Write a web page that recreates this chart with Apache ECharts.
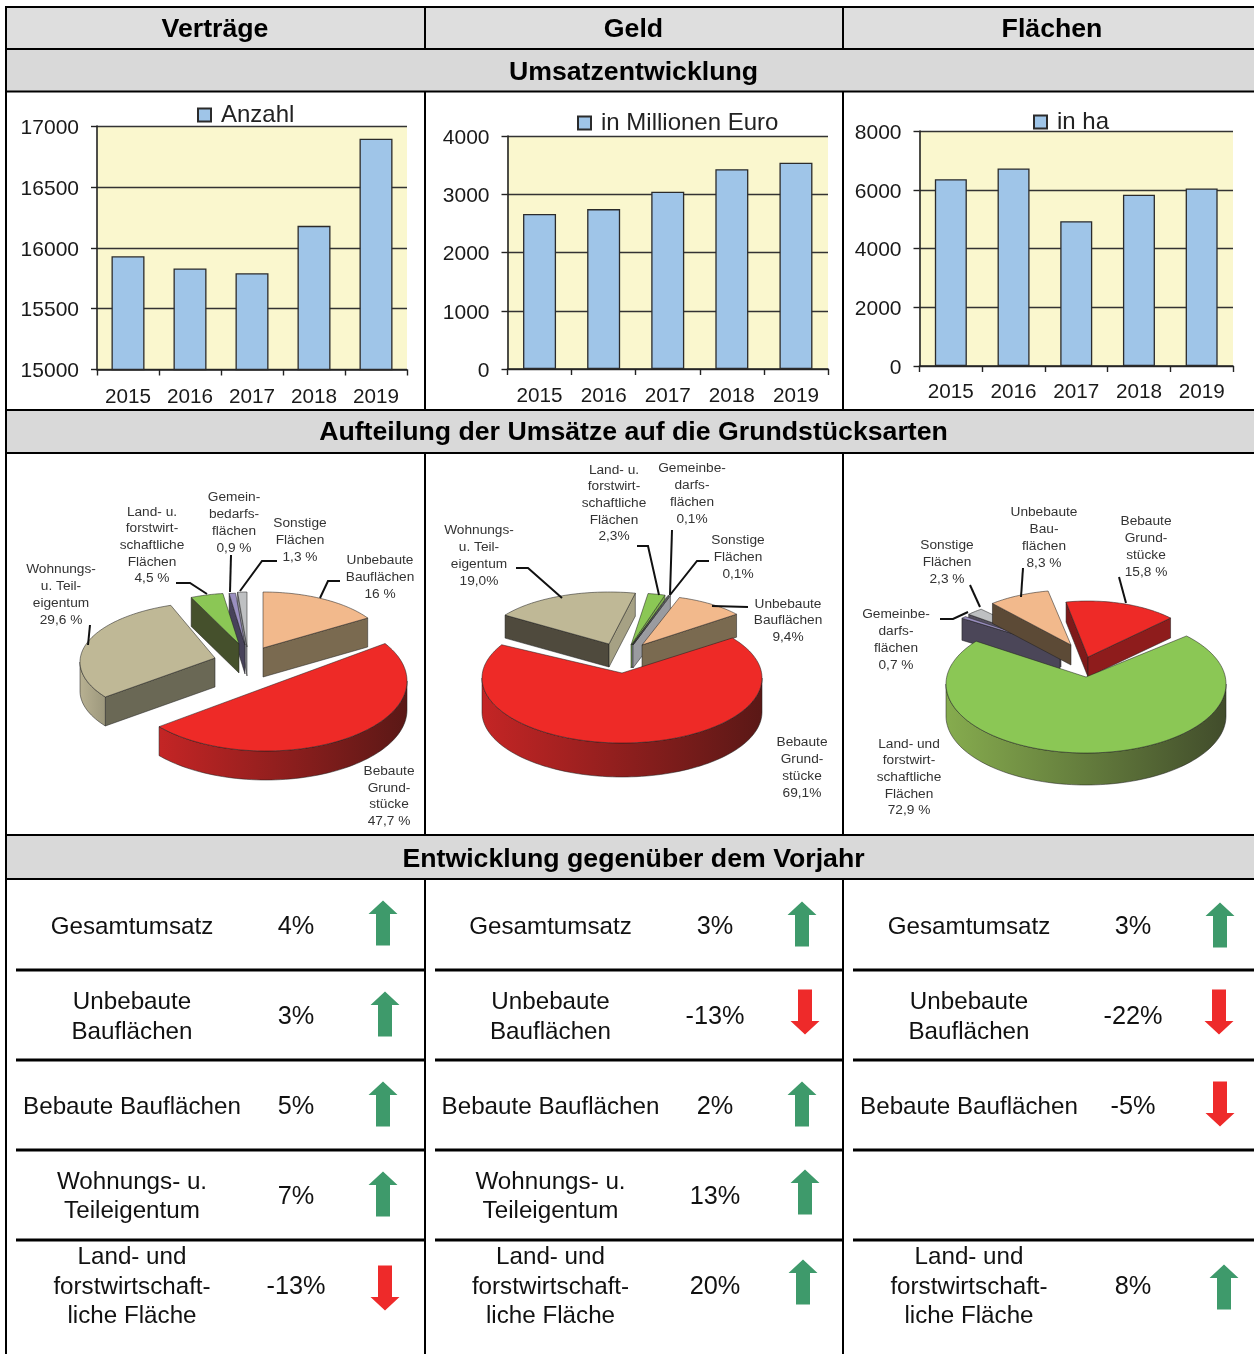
<!DOCTYPE html>
<html><head><meta charset="utf-8">
<style>html,body{margin:0;padding:0;background:#fff}#c{width:1254px;height:1354px}</style>
<script src="https://cdn.jsdelivr.net/npm/echarts@6/dist/echarts.min.js"></script>
</head><body><div id="c"></div>
<script>
const FONT='"Liberation Sans",Arial,sans-serif';
// ---- data ----
const columnTitles=['Verträge','Geld','Flächen'];
const sectionTitles=['Umsatzentwicklung','Aufteilung der Umsätze auf die Grundstücksarten','Entwicklung gegenüber dem Vorjahr'];
const years=['2015','2016','2017','2018','2019'];
const contractValues=[15930,15830,15790,16180,16895];
const moneyValues=[2660,2745,3045,3430,3540];
const areaValues=[6360,6725,4930,5830,6045];
const seriesNames=['Anzahl','in Millionen Euro','in ha'];

const pie1Values=[16,47.7,29.6,4.5,0.9,1.3];
const pie2Values=[69.1,19.0,2.3,0.1,0.1,9.4];
const pie3Values=[15.8,72.9,0.7,2.3,8.3];

const pie1Labels=[
 'Unbebaute\nBauflächen\n16 %','Bebaute\nGrund-\nstücke\n47,7 %','Wohnungs-\nu. Teil-\neigentum\n29,6 %',
 'Land- u.\nforstwirt-\nschaftliche\nFlächen\n4,5 %','Gemein-\nbedarfs-\nflächen\n0,9 %','Sonstige\nFlächen\n1,3 %'];
const pie2Labels=[
 'Bebaute\nGrund-\nstücke\n69,1%','Wohnungs-\nu. Teil-\neigentum\n19,0%',
 'Land- u.\nforstwirt-\nschaftliche\nFlächen\n2,3%','Gemeinbe-\ndarfs-\nflächen\n0,1%','Sonstige\nFlächen\n0,1%','Unbebaute\nBauflächen\n9,4%'];
const pie3Labels=[
 'Bebaute\nGrund-\nstücke\n15,8 %','Land- und\nforstwirt-\nschaftliche\nFlächen\n72,9 %',
 'Gemeinbe-\ndarfs-\nflächen\n0,7 %','Sonstige\nFlächen\n2,3 %','Unbebaute\nBau-\nflächen\n8,3 %'];

const rowNames=[['Gesamtumsatz'],['Unbebaute','Bauflächen'],['Bebaute Bauflächen'],['Wohnungs- u.','Teileigentum'],['Land- und','forstwirtschaft-','liche Fläche']];
const changeVerträge=[4,3,5,7,-13];
const changeGeld=[3,-13,2,13,20];
const changeFlächen=[3,-22,-5,null,8];

// ---- layout / style ----
const TOP={c:'#F2B98C',w:'#7A6A50'};
const RED={c:'#EE2A27',w:'#8E1C1C',rim:['#C42525','#5A1816']};
const TAN={c:'#BFB896',w:'#6A6855',w1:'#A6A184',rim:['#B8B192','#9C977C']};
const GRN={c:'#8BC755',w:'#45502C',w1:'#6E9C3A',rim:['#86AC4E','#414C2B']};
const PUR={c:'#9A8FC0',w:'#47425A'};
const GRY={c:'#BEC0C2',w:'#8F9096',w1:'#9A9BA0'};

const pies=[
 {values:pie1Values,labels:pie1Labels,start:0,order:[0,5,4,3,2,1],h:29,
  slices:[
   {x:263,y:648,rx:124,ry:56,s:TOP},
   {x:266,y:681,ax:272,ay:685,rx:141,ry:70,s:RED},
   {x:215,y:662,ax:215,ay:658,rot:5,rx:135,ry:60,s:TAN},
   {x:239,y:644,rx:117,ry:51,s:GRN},
   {x:245,y:645,rx:115,ry:52,s:PUR},
   {x:247,y:647,rx:115,ry:55,s:GRY}],
  text:[[380,576.5],[389,795.5],[61,594],[152,544.5],[234,522],[300,539.5]],
  leaders:[[[340,581],[328,581],[320,598]],[[90,625],[88,645]],[[176,583],[190,583],[207,594]],[[231,555],[230,592]],[[277,561],[262,561],[240,591]]]},
 {values:pie2Values,labels:pie2Labels,start:52,order:[2,3,4,5,1,0],h:23,
  slices:[
   {x:622,y:678,ax:622,ay:673,rx:140,ry:65,s:RED,h:34},
   {x:609,y:644,rot:3,rx:125,ry:52,s:{c:TAN.c,w:'#4F4A3D',w1:'#A6A184'}},
   {x:631,y:645,rot:-1,rx:120,ry:52,s:{c:GRN.c,w:'#6E9C3A',w1:'#7FB24C'}},
   {x:632,y:645,rx:120,ry:52,s:GRY},
   {x:633,y:645,rx:120,ry:52,s:GRY},
   {x:642,y:645,rx:120,ry:50,s:TOP}],
  text:[[802,767],[479,555],[614,502.5],[692,493],[738,556.5],[788,620]],
  leaders:[[[516,568],[528,568],[562,598]],[[637,546],[648,546],[659,595]],[[672,530],[670,595]],[[709,561],[697,561],[670,595]],[[748,607],[712,606]]]},
 {values:pie3Values,labels:pie3Labels,start:-11,order:[3,2,4,0,1],h:20,
  slices:[
   {x:1088,y:657,rx:115,ry:56,s:{c:RED.c,w:'#7E1A1A',w1:'#8E1C1C'}},
   {x:1086,y:684,ax:1086,ay:677,rx:140,ry:69,s:GRN,h:32},
   {x:1060,y:648,rx:125,ry:48,s:{c:'#9A8FC0',w:'#4B4658'},h:22},
   {x:1061,y:647,rx:122,ry:50,s:{c:GRY.c,w:'#55505F'}},
   {x:1071,y:645,rx:120,ry:55,s:{c:TOP.c,w:'#5C4A36',w1:'#7A6A50'}}],
  text:[[1146,546],[909,776.5],[896,639],[947,561.5],[1044,537]],
  leaders:[[[1119,577],[1126,603]],[[1023,568],[1021,597]],[[970,585],[980,607]],[[940,619],[953,619],[968,612]]]}
];

const rowTextY=[[926],[1001,1031],[1106],[1181,1210],[1256,1286,1315]];
const rowPctY=[926,1016,1106,1196,1286];
const tableCols=[
 {changes:changeVerträge,tx:132,px:296,lineL:16,lineR:425,arrows:[[383,923],[385,1014],[383,1104],[383,1194],[385,1288]]},
 {changes:changeGeld,tx:550.5,px:715,lineL:435,lineR:843,arrows:[[802,924],[805,1012],[802,1104],[805,1192],[803,1282]]},
 {changes:changeFlächen,tx:969,px:1133,lineL:853,lineR:1254,arrows:[[1220,925],[1219,1012],[1220,1104],null,[1224,1287]]}
];
const rowLines=[970,1060,1150,1240];
const GREEN='#3E9A6B', ARROW_RED='#EE2A2A';

// ---- table graphic ----
const g=[];
const rect=(x,y,w,h,fill)=>g.push({type:'rect',z:0,silent:true,shape:{x,y,width:w,height:h},style:{fill}});
const line=(x1,y1,x2,y2,lw=2)=>g.push({type:'line',z:1,silent:true,shape:{x1,y1,x2,y2},style:{stroke:'#000',lineWidth:lw}});
const text=(x,y,t,size,opt={})=>g.push({type:'text',z:20,silent:true,x,y:y+1,style:Object.assign({text:t,fontFamily:FONT,fontSize:size,fill:'#111',align:'center',verticalAlign:'middle'},opt)});

rect(6,7,1248,42,'#DEDEDE');
[[49,91.5],[410,453],[835,879]].forEach(([a,b])=>rect(6,a,1248,b-a,'#D9D9D9'));
[7,49,91.5,410,453,835,879].forEach(y=>line(6,y,1254,y));
line(6,6,6,1354);
[425,843].forEach(x=>{[[7,49],[91.5,410],[453,835],[879,1354]].forEach(([a,b])=>line(x,a,x,b));});
columnTitles.forEach((t,i)=>text([215,633.5,1052][i],28.5,t,26.7,{fontWeight:'bold',fill:'#000'}));
sectionTitles.forEach((t,i)=>text(633.5,[71.5,432,858.5][i],t,26.7,{fontWeight:'bold',fill:'#000'}));

tableCols.forEach(col=>{
 rowLines.forEach(y=>line(col.lineL,y,col.lineR,y,3));
 col.changes.forEach((v,r)=>{
  if(v===null) return;
  rowNames[r].forEach((t,k)=>text(col.tx,rowTextY[r][k],t,24.2));
  text(col.px,rowPctY[r],v+'%',25.3);
  const [ax,ay]=col.arrows[r]; const up=v>=0; const d=up?1:-1;
  g.push({type:'polygon',z:5,silent:true,shape:{points:[
    [ax,ay-22.5*d],[ax+14.5,ay-9*d],[ax+7,ay-9*d],[ax+7,ay+22.5*d],[ax-7,ay+22.5*d],[ax-7,ay-9*d],[ax-14.5,ay-9*d]]},
    style:{fill:up?GREEN:ARROW_RED}});
 });
});

// pie labels and leaders
pies.forEach(p=>{
 p.labels.forEach((t,i)=>{
  g.push({type:'text',z:20,silent:true,x:p.text[i][0],y:p.text[i][1]+.7,style:{text:t,fontFamily:FONT,fontSize:13.7,lineHeight:16.7,fill:'#333',align:'center',verticalAlign:'middle'}});
 });
 p.leaders.forEach(pts=>g.push({type:'polyline',z:21,silent:true,shape:{points:pts},style:{stroke:'#111',lineWidth:2,fill:null}}));
});

// ---- pie series (tilted, exploded) ----
function pieSeries(p){
 let acc=p.start; 
 const geo=p.values.map((v,i)=>{const a0=acc,a1=acc+v*3.6;acc=a1;const rot=p.slices[i].rot||0;return Object.assign({},p.slices[i],{a0:a0+rot,a1:a1+rot});});
 return {type:'custom',coordinateSystem:'none',silent:true,clip:false,z:6,animation:false,
  data:p.order.map(i=>p.values[i]),
  renderItem:(params)=>{
   const s=geo[p.order[params.dataIndex]]; const st=s.s; const H=s.h||p.h;
   const pt=t=>{const r=t*Math.PI/180;return [s.x+s.rx*Math.sin(r),s.y-s.ry*Math.cos(r)];};
   const ch=[]; const edge={stroke:'rgba(30,30,30,.75)',lineWidth:.7};
   const poly=(points,fill)=>ch.push({type:'polygon',shape:{points},style:Object.assign({fill},edge)});
   const down=q=>[q[0],q[1]+H];
   const apex=[s.ax===undefined?s.x:s.ax,s.ay===undefined?s.y:s.ay];
   const sin=t=>Math.sin(t*Math.PI/180);
   if(sin(s.a0)<0){const q=pt(s.a0);poly([apex,q,down(q),down(apex)],st.w);}
   if(sin(s.a1)>0){const q=pt(s.a1);poly([apex,q,down(q),down(apex)],st.w1||st.w);}
   [[90,270],[450,630],[-270,-90]].forEach(([lo,hi])=>{
    const f=Math.max(s.a0,lo),e=Math.min(s.a1,hi);
    if(e<=f) return;
    const up=[];for(let t=f;t<e;t+=2)up.push(pt(t));up.push(pt(e));
    const fill=st.rim?{type:'linear',x:0,y:0,x2:1,y2:0,colorStops:[{offset:0,color:st.rim[0]},{offset:1,color:st.rim[1]}]}:(st.w1||st.w);
    poly(up.concat(up.slice().reverse().map(down)),fill);
   });
   const top=[apex];for(let t=s.a0;t<s.a1;t+=1.5)top.push(pt(t));top.push(pt(s.a1));
   poly(top,st.c);
   return {type:'group',children:ch};
  }};
}

// ---- bars ----
const grids=[
 {left:97,top:126,width:310,height:243.5},
 {left:507.5,top:136,width:320.5,height:233},
 {left:919.5,top:131,width:313.5,height:235}
];
const axisCfg=[[15000,17000,500],[0,4000,1000],[0,8000,2000]];
const labelMargins=[17,17,16];
const barWidths=[33,33,32];
const legends=[[197,103],[577,111],[1033,110]];
const barData=[contractValues,moneyValues,areaValues];
const axLine={show:true,lineStyle:{color:'#222',width:1.6}};
const option={
 animation:false,
 textStyle:{fontFamily:FONT},
 graphic:{elements:g},
 grid:grids.map(r=>Object.assign({show:true,backgroundColor:'#FAF7CE',borderWidth:0,containLabel:false},r)),
 legend:seriesNames.map((n,i)=>({data:[{name:n,icon:'rect'}],left:legends[i][0],top:legends[i][1],padding:0,itemWidth:13,itemHeight:13,selectedMode:false,
   textStyle:{fontFamily:FONT,fontSize:24,color:'#222',padding:[0,0,0,5]}})),
 xAxis:grids.map((_,i)=>({type:'category',gridIndex:i,data:years,axisLine:axLine,
   axisTick:{show:true,length:6,lineStyle:{color:'#222',width:1.4}},
   axisLabel:{fontFamily:FONT,fontSize:20.7,color:'#1a1a1a',margin:labelMargins[i],interval:0}})),
 yAxis:grids.map((_,i)=>({type:'value',gridIndex:i,min:axisCfg[i][0],max:axisCfg[i][1],interval:axisCfg[i][2],
   axisLine:axLine,axisTick:{show:true,length:6,lineStyle:{color:'#222',width:1.4}},
   axisLabel:{fontFamily:FONT,fontSize:21,color:'#1a1a1a',margin:18,verticalAlign:'top',lineHeight:4,formatter:v=>String(v)},
   splitLine:{show:true,lineStyle:{color:'#333',width:1.4}}})),
 series:barData.map((d,i)=>({type:'bar',name:seriesNames[i],xAxisIndex:i,yAxisIndex:i,data:d,barWidth:barWidths[i],z:3,
   itemStyle:{color:'#9FC5E8',borderColor:'#2b2b2b',borderWidth:1.3}})).concat(pies.map(pieSeries))
};
const chart=echarts.init(document.getElementById('c'),null,{renderer:'canvas'});
chart.setOption(option);
</script></body></html>
